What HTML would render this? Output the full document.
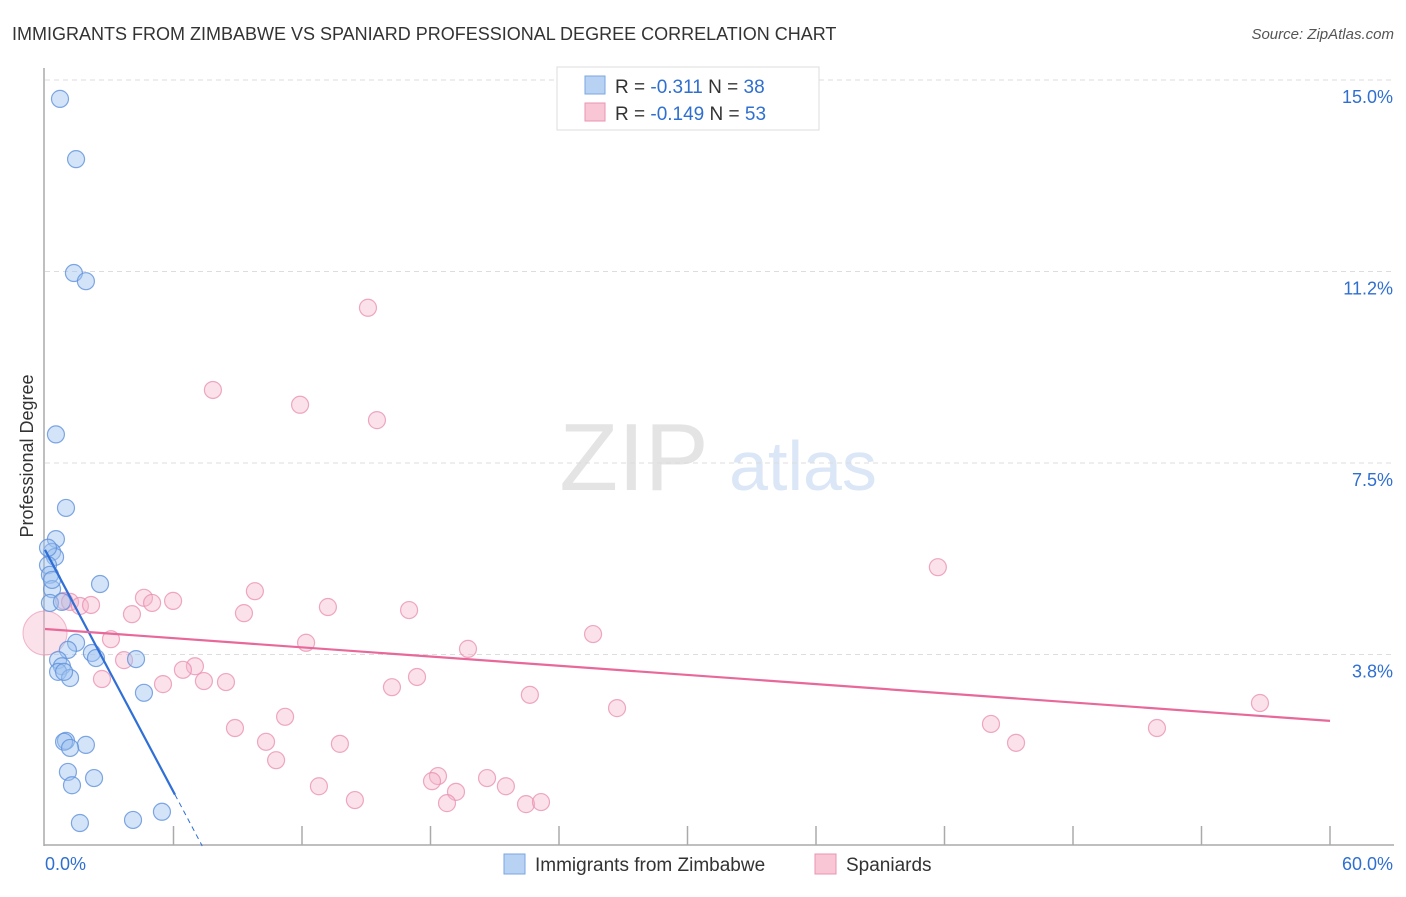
<!DOCTYPE html>
<html><head><meta charset="utf-8"><style>
body{margin:0;background:#fff;font-family:"Liberation Sans",sans-serif}
svg text{font-family:"Liberation Sans",sans-serif}
</style></head><body>
<svg id="chart" width="1406" height="892" viewBox="0 0 1406 892" xmlns="http://www.w3.org/2000/svg">
<text x="12" y="40" font-size="18" fill="#333">IMMIGRANTS FROM ZIMBABWE VS SPANIARD PROFESSIONAL DEGREE CORRELATION CHART</text>
<text x="1394" y="39" font-size="15" fill="#555" text-anchor="end" font-style="italic">Source: ZipAtlas.com</text>
<g>
<text x="634" y="490" font-size="96" fill="#e4e4e4" text-anchor="middle" font-family="Liberation Serif,serif">ZIP</text>
<text x="803" y="490" font-size="70" fill="#dbe7f6" text-anchor="middle">atlas</text>
</g>
<g id="grid"></g>
<g id="axes"></g>
<g id="pts"></g>
<g id="trends"></g>
<text transform="translate(33,456) rotate(-90)" font-size="18" fill="#333" text-anchor="middle">Professional Degree</text>
<g>
<rect x="557" y="67" width="262" height="63" fill="#fff" stroke="#ddd"/>
<rect x="585" y="76" width="20" height="18" fill="#b8d2f4" stroke="#7aa6e0"/>
<rect x="585" y="103" width="20" height="18" fill="#f9c6d6" stroke="#e894b2"/>
<text x="615" y="93" font-size="19" fill="#333">R = <tspan fill="#2f6fd0">-0.311</tspan>   N = <tspan fill="#2f6fd0">38</tspan></text>
<text x="615" y="120" font-size="19" fill="#333">R = <tspan fill="#2f6fd0">-0.149</tspan>   N = <tspan fill="#2f6fd0">53</tspan></text>
</g>
<g>
<rect x="504" y="854" width="21" height="20" fill="#b8d2f4" stroke="#7aa6e0"/>
<text x="535" y="871" font-size="19" fill="#333">Immigrants from Zimbabwe</text>
<rect x="815" y="854" width="21" height="20" fill="#f9c6d6" stroke="#e894b2"/>
<text x="846" y="871" font-size="19" fill="#333">Spaniards</text>
</g>
</svg>
<script>
const yTicks=[3.75,7.5,11.25,15];
const yTickLabels=["3.8%","7.5%","11.2%","15.0%"];
const xTickCount=10;
const blueX=[0.70,1.45,1.35,1.91,0.51,0.98,0.51,0.33,0.47,0.14,0.23,0.33,0.23,0.79,2.57,1.45,1.07,2.19,2.38,4.25,0.61,0.79,0.61,1.17,0.89,4.62,0.98,0.89,1.91,1.17,1.07,2.29,1.26,1.63,4.11,5.46,0.33,0.14];
const blueY=[14.63,13.45,11.22,11.06,8.06,6.62,6.01,5.76,5.66,5.50,5.31,5.03,4.76,4.78,5.13,3.98,3.84,3.78,3.68,3.66,3.64,3.52,3.41,3.29,3.41,3.00,2.06,2.04,1.98,1.92,1.45,1.33,1.19,0.45,0.51,0.67,5.21,5.84];
const pinkX=[24.79,15.08,7.84,11.91,15.50,41.69,9.80,4.62,5.98,5.00,0.89,1.17,1.63,2.15,4.06,9.29,13.21,17.00,25.59,3.08,12.19,19.75,3.69,7.00,6.44,2.66,7.42,8.45,5.51,16.20,17.37,22.64,26.71,56.73,11.21,8.87,44.17,51.92,10.32,13.77,45.34,10.79,18.35,18.07,20.64,21.52,12.79,19.19,14.47,18.77,22.46,23.16];
const pinkY=[14.90,10.54,8.93,8.64,8.34,5.46,4.99,4.86,4.80,4.76,4.80,4.78,4.70,4.72,4.54,4.56,4.68,4.62,4.15,4.05,3.98,3.86,3.64,3.52,3.45,3.27,3.23,3.21,3.17,3.11,3.31,2.96,2.70,2.80,2.53,2.31,2.39,2.31,2.04,2.00,2.02,1.68,1.37,1.27,1.33,1.17,1.17,1.06,0.90,0.84,0.82,0.86];
const bigPink=[0,4.17];
const blueTrend=[5.80,-0.79,6.07];   // intercept, slope, solid end x
const pinkTrend=[4.25,-0.030];
const X0=45,X1=1330,Y0=846,PXV=191.5/3.75;
const sx=v=>X0+(v/60)*(X1-X0), sy=v=>Y0-v*PXV;
const NS="http://www.w3.org/2000/svg";
function mk(t,a,p){const e=document.createElementNS(NS,t);for(const k in a)e.setAttribute(k,a[k]);p.appendChild(e);return e;}
const grid=document.getElementById('grid'),axes=document.getElementById('axes');
yTicks.forEach((v,i)=>{
 const l=mk('line',{x1:X0,x2:1394,y1:sy(v),y2:sy(v),stroke:'#ddd','stroke-dasharray':'5,4'},grid);
 
 
 const t=mk('text',{x:1393,y:sy(v)+23,'font-size':18,fill:'#2f6fd0','text-anchor':'end'},axes);
 t.textContent=yTickLabels[i];
 
 
});
mk('line',{x1:X0-1,x2:X0-1,y1:68,y2:846,stroke:'#aaa','stroke-width':1.5},axes);
mk('line',{x1:X0-1,x2:1394,y1:845,y2:845,stroke:'#aaa','stroke-width':1.5},axes);
for(let i=1;i<=xTickCount;i++){const x=sx(i*6);const tk=mk('line',{x1:x,x2:x,y1:826,y2:845,stroke:'#aaa','stroke-width':1.5},axes);
 
 }
let t=mk('text',{x:45,y:870,'font-size':18,fill:'#2f6fd0'},axes);t.textContent='0.0%';

t=mk('text',{x:1393,y:870,'font-size':18,fill:'#2f6fd0','text-anchor':'end'},axes);t.textContent='60.0%';

const pts=document.getElementById('pts');
const bp=mk('circle',{cx:sx(bigPink[0]),cy:sy(bigPink[1]),r:22,fill:'rgba(246,180,202,0.4)',stroke:'rgba(232,140,175,0.6)'},pts);


pinkX.forEach((x,i)=>{const c=mk('circle',{cx:sx(x),cy:sy(pinkY[i]),r:8.5,fill:'rgba(246,180,202,0.4)',stroke:'rgba(232,140,175,0.75)','stroke-width':1.2},pts);
 
 });
blueX.forEach((x,i)=>{const c=mk('circle',{cx:sx(x),cy:sy(blueY[i]),r:8.5,fill:'rgba(160,196,240,0.45)',stroke:'rgba(95,145,220,0.8)','stroke-width':1.2},pts);
 
 });
const tr=document.getElementById('trends');
const bEnd=blueTrend[2], bZero=-blueTrend[0]/blueTrend[1];
let l=mk('line',{x1:sx(0),y1:sy(blueTrend[0]),x2:sx(bEnd),y2:sy(blueTrend[0]+blueTrend[1]*bEnd),stroke:'#2f6fd6','stroke-width':2.2},tr);


l=mk('line',{x1:sx(bEnd),y1:sy(blueTrend[0]+blueTrend[1]*bEnd),x2:sx(bZero),y2:sy(0),stroke:'#2f6fd6','stroke-width':1,'stroke-dasharray':'5,4'},tr);


l=mk('line',{x1:sx(0),y1:sy(pinkTrend[0]),x2:sx(60),y2:sy(pinkTrend[0]+pinkTrend[1]*60),stroke:'#e8689a','stroke-width':2.2},tr);


</script>
</body></html>
